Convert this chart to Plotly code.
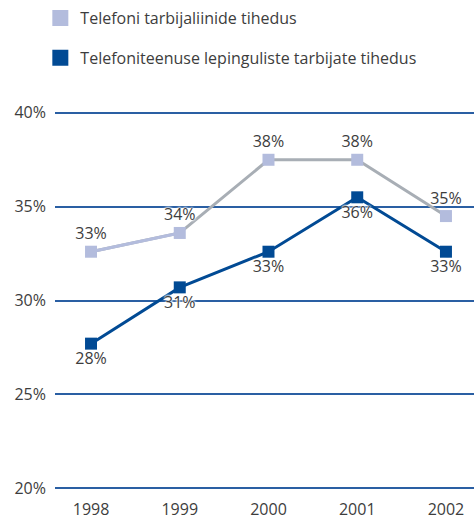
import plotly.graph_objects as go

years = ["1998", "1999", "2000", "2001", "2002"]
lines_density = [32.6, 33.6, 37.5, 37.5, 34.5]
lines_labels = ["33%", "34%", "38%", "38%", "35%"]
contract_density = [27.7, 30.7, 32.6, 35.5, 32.6]
contract_labels = ["28%", "31%", "33%", "36%", "33%"]
name_lines = "Telefoni tarbijaliinide tihedus"
name_contract = "Telefoniteenuse lepinguliste tarbijate tihedus"
y_ticks = [20, 25, 30, 35, 40]
y_tick_text = ["20%", "25%", "30%", "35%", "40%"]

LIGHT = "#B3BCDD"
GREY = "#A8AEB5"
DARK = "#014A94"
GRID = "#2A5FA3"
GRID_TOP = "#4A7DBB"
TXT = "#3d3d3d"
FONT = "Open Sans, sans-serif"
halo = "white 0px 0px 2px, white 0px 0px 2px, white 0px 0px 3px, white 0px 0px 3px"

fig = go.Figure()

# light series line (grey) and first segment (lavender)
fig.add_trace(go.Scatter(x=years, y=lines_density, mode="lines",
                         line=dict(color=GREY, width=3), showlegend=False, hoverinfo="skip"))
fig.add_trace(go.Scatter(x=years[:2], y=lines_density[:2], mode="lines",
                         line=dict(color=LIGHT, width=3), showlegend=False, hoverinfo="skip"))
fig.add_trace(go.Scatter(x=years, y=lines_density, mode="markers+text",
                         marker=dict(symbol="square", size=12, color=LIGHT),
                         text=lines_labels, textposition="top center",
                         textfont=dict(family=FONT, size=16, color=TXT, shadow=halo),
                         cliponaxis=False, showlegend=False))
fig.add_trace(go.Scatter(x=years, y=contract_density, mode="lines+markers+text",
                         line=dict(color=DARK, width=3),
                         marker=dict(symbol="square", size=12, color=DARK),
                         text=contract_labels, textposition="bottom center",
                         textfont=dict(family=FONT, size=16, color=TXT, shadow=halo),
                         cliponaxis=False, showlegend=False))

# legend entries
fig.add_trace(go.Scatter(x=[None], y=[None], mode="markers", name=name_lines,
                         marker=dict(symbol="square", size=16, color=LIGHT),
                         legendgroup="a"))
fig.add_trace(go.Scatter(x=[None], y=[None], mode="markers", name=name_contract,
                         marker=dict(symbol="square", size=16, color=DARK),
                         legendgroup="b"))

# outer grid lines at the range ends
for val, col in [(y_ticks[0], GRID), (y_ticks[-1], GRID_TOP)]:
    fig.add_shape(type="line", xref="paper", x0=0, x1=1, yref="y", y0=val, y1=val,
                  line=dict(color=col, width=2), layer="below")

fig.update_layout(
    width=474, height=515,
    margin=dict(l=55, r=0, t=111, b=25, autoexpand=False),
    paper_bgcolor="white", plot_bgcolor="white",
    font=dict(family=FONT, size=16, color=TXT),
    legend=dict(x=-0.035, y=1.29, xanchor="left", yanchor="top",
                orientation="v", traceorder="grouped", tracegroupgap=16,
                font=dict(family=FONT, size=16, color=TXT),
                itemwidth=30, bgcolor="rgba(0,0,0,0)"),
    xaxis=dict(type="category", range=[-0.406, 4.316], showgrid=False,
               zeroline=False, showline=False, ticks="", ticklabelstandoff=8,
               tickfont=dict(family=FONT, size=16, color=TXT)),
    yaxis=dict(range=[19.9, 40.1], tickvals=y_ticks, ticktext=y_tick_text,
               showgrid=True, gridcolor=GRID, gridwidth=2, zeroline=False,
               showline=False, ticks="", ticklabelstandoff=8,
               tickfont=dict(family=FONT, size=16, color=TXT)),
)

fig.write_html("out.html", config={"displayModeBar": False},
               post_script="document.body.style.margin='0px';")
